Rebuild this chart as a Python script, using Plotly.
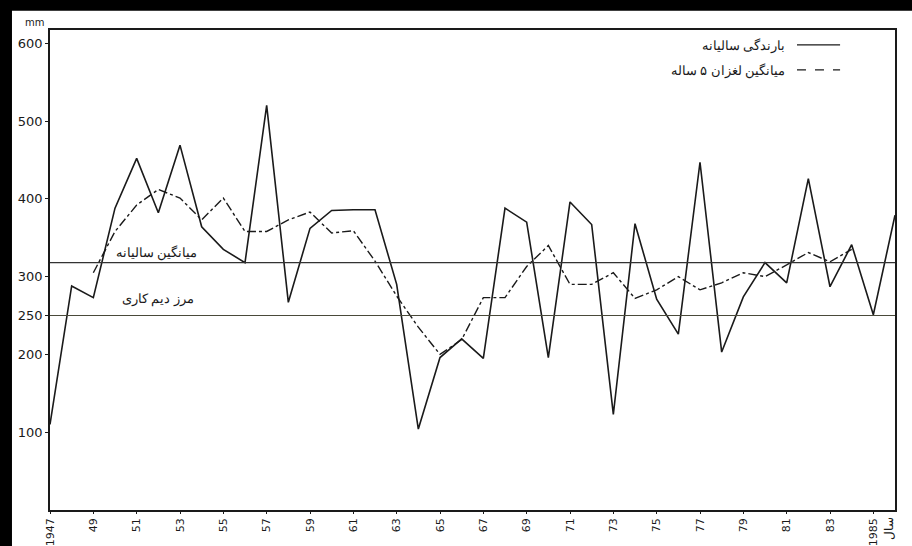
import plotly.graph_objects as go

years = list(range(1947, 1987))
annual_rain = [110, 288, 273, 388, 452, 382, 469, 364, 335, 318,
               520, 267, 362, 385, 386, 386, 290, 104, 196, 220,
               195, 388, 370, 196, 396, 367, 123, 368, 271, 226,
               447, 203, 274, 318, 292, 426, 287, 341, 251, 379]

ma_years = list(range(1949, 1985))
moving_avg = [305, 358, 392, 412, 401, 373, 401, 358, 358, 373,
              383, 356, 359, 320, 275, 235, 200, 219, 273, 273,
              313, 340, 290, 290, 305, 272, 283, 300, 283, 292,
              305, 300, 315, 331, 319, 335]

mean_rain = 318
dryland_limit = 250

xtick_vals = list(range(1947, 1987, 2))
xtick_text = ["1947"] + [str(y)[2:] for y in range(1949, 1985, 2)] + ["1985"]
ytick_vals = [100, 200, 250, 300, 400, 500, 600]
ytick_text = ["100", "200", "250", "300", "400", "500", "600"]

legend_labels = ["بارندگی سالیانه", "میانگین لغزان ۵ ساله"]
mean_label = "میانگین سالیانه"
dry_label = "مرز دیم کاری"
x_title = "سال"
y_unit = "mm"

ink = "#1a1a1a"
font = "DejaVu Sans"

fig = go.Figure()
fig.add_trace(go.Scatter(x=years, y=annual_rain, mode="lines",
                         line=dict(color=ink, width=1.6), showlegend=False))
fig.add_trace(go.Scatter(x=ma_years, y=moving_avg, mode="lines",
                         line=dict(color=ink, width=1.4, dash="dashdot"), showlegend=False))

fig.add_hline(y=mean_rain, line=dict(color="#333333", width=1.2))
fig.add_hline(y=dryland_limit, line=dict(color="#4a4a3a", width=1.2))

fig.update_layout(
    width=912, height=546,
    margin=dict(l=50, r=17, t=30, b=36),
    paper_bgcolor="white", plot_bgcolor="white",
    font=dict(family=font, size=12, color=ink),
    xaxis=dict(range=[1947, 1986], tickvals=xtick_vals, ticktext=xtick_text,
               tickangle=-90, showgrid=False, zeroline=False, automargin=False,
               showline=True, linecolor=ink, linewidth=1.5, mirror=True,
               ticks="outside", ticklen=2, tickcolor=ink,
               tickfont=dict(size=11, family=font)),
    yaxis=dict(range=[0, 617], tickvals=ytick_vals, ticktext=ytick_text,
               showgrid=False, zeroline=False, automargin=False,
               showline=True, linecolor=ink, linewidth=1.5, mirror=True,
               ticks="outside", ticklen=3, tickcolor=ink,
               tickfont=dict(size=13, family=font)),
)

# manual RTL legend
for i, (lab, dash) in enumerate(zip(legend_labels, ["solid", "dash"])):
    yp = 0.969 - i * 0.052
    fig.add_shape(type="line", xref="paper", yref="paper",
                  x0=0.884, x1=0.935, y0=yp, y1=yp,
                  line=dict(color=ink, width=1.4, dash=dash))
    fig.add_annotation(xref="paper", yref="paper", x=0.872, y=yp,
                       text=lab, showarrow=False, xanchor="right", yanchor="middle",
                       font=dict(size=13, family="Noto Sans", color=ink))

fig.add_annotation(x=1951.9, y=mean_rain, text=mean_label, showarrow=False,
                   xanchor="center", yanchor="bottom",
                   font=dict(size=13, family="Noto Sans", color=ink))
fig.add_annotation(x=1952.0, y=273, text=dry_label, showarrow=False,
                   xanchor="center", yanchor="middle",
                   font=dict(size=13, family="Noto Sans", color=ink))

fig.add_annotation(xref="paper", yref="paper", x=0.992, y=-0.01,
                   text=x_title, showarrow=False, textangle=-90,
                   xanchor="center", yanchor="top",
                   font=dict(size=12, family="Noto Sans", color=ink))
fig.add_annotation(xref="paper", yref="paper", x=-0.005, y=1.0,
                   text=y_unit, showarrow=False, xanchor="right", yanchor="bottom",
                   font=dict(size=10, family=font, color=ink))

# black scan border (top and left)
fig.add_shape(type="rect", xref="paper", yref="paper", x0=-0.07, x1=1.03,
              y0=1.040, y1=1.08, fillcolor="black", line=dict(width=0), layer="above")
fig.add_shape(type="rect", xref="paper", yref="paper", x0=-0.07, x1=-0.045,
              y0=-0.1, y1=1.08, fillcolor="black", line=dict(width=0), layer="above")

fig.write_html("out.html", config={"displayModeBar": False},
               post_script="document.body.style.margin='0';")
